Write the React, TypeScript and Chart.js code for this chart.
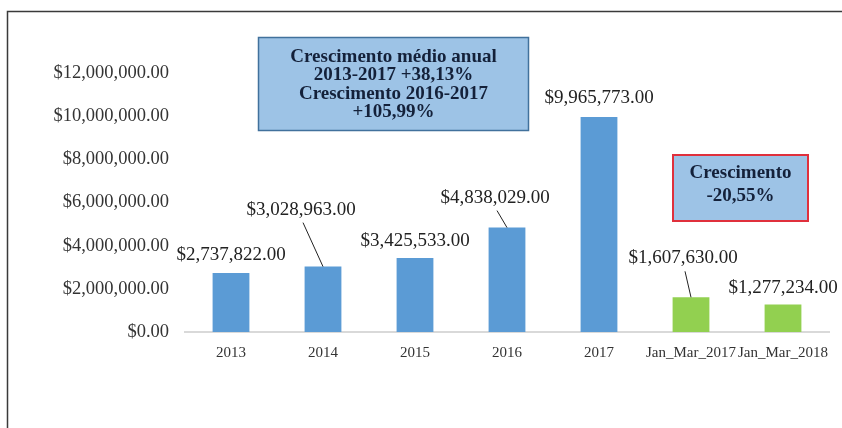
import React, { useEffect, useRef } from "react";
import { Chart, registerables } from "chart.js";

Chart.register(...registerables);

const categories = ["2013", "2014", "2015", "2016", "2017", "Jan_Mar_2017", "Jan_Mar_2018"];
const revenue = [2737822, 3028963, 3425533, 4838029, 9965773, 1607630, 1277234];
const barColors = ["#5b9bd5", "#5b9bd5", "#5b9bd5", "#5b9bd5", "#5b9bd5", "#92d050", "#92d050"];
const yTicksMax = 12000000;
const yTickStep = 2000000;
const box1Lines = ["Crescimento médio anual", "2013-2017 +38,13%", "Crescimento 2016-2017", "+105,99%"];
const box2Lines = ["Crescimento", "-20,55%"];

// label offsets (px) from bar top, and whether a leader line is drawn
const labelDx = [0, -22, 0, -12, 0, -8, 0];
const labelDy = [-18, -57, -17, -30, -19, -39, -16];
const leader = [false, true, false, true, false, true, false];

const fmt = (v: number) =>
  "$" + v.toLocaleString("en-US", { minimumFractionDigits: 2, maximumFractionDigits: 2 });

const SERIF = "'Liberation Serif', 'Times New Roman', serif";

const overlayPlugin = {
  id: "overlay",
  afterDraw(chart: any) {
    const ctx = chart.ctx;
    ctx.save();
    // frame
    ctx.strokeStyle = "#3a3a3a";
    ctx.lineWidth = 1.5;
    ctx.beginPath();
    ctx.moveTo(7.5, 428);
    ctx.lineTo(7.5, 11.5);
    ctx.lineTo(842, 11.5);
    ctx.stroke();

    // data labels
    const meta = chart.getDatasetMeta(0);
    ctx.font = `19px ${SERIF}`;
    ctx.fillStyle = "#222";
    ctx.textAlign = "center";
    ctx.textBaseline = "middle";
    meta.data.forEach((bar: any, i: number) => {
      const lx = bar.x + labelDx[i];
      const ly = bar.y + labelDy[i];
      ctx.fillText(fmt(revenue[i]), lx, ly);
      if (leader[i]) {
        ctx.strokeStyle = "#222";
        ctx.lineWidth = 1;
        ctx.beginPath();
        ctx.moveTo(lx + 2, ly + 13);
        ctx.lineTo(bar.x, bar.y);
        ctx.stroke();
      }
    });

    // annotation boxes
    const drawBox = (x: number, y: number, w: number, h: number, border: string, bw: number, lines: string[], firstY: number, gap: number) => {
      ctx.fillStyle = "#9dc3e6";
      ctx.fillRect(x, y, w, h);
      ctx.strokeStyle = border;
      ctx.lineWidth = bw;
      ctx.strokeRect(x, y, w, h);
      ctx.fillStyle = "#14213a";
      ctx.font = `bold 19px ${SERIF}`;
      ctx.textAlign = "center";
      ctx.textBaseline = "middle";
      lines.forEach((t, k) => ctx.fillText(t, x + w / 2, firstY + k * gap));
    };
    drawBox(258.5, 37.5, 270, 93, "#41719c", 1.5, box1Lines, 57, 18.4);
    drawBox(673, 155, 135, 66, "#e0303c", 2, box2Lines, 173, 23);
    ctx.restore();
  },
};

export default function App() {
  const ref = useRef<HTMLCanvasElement>(null);
  useEffect(() => {
    if (!ref.current) return;
    const chart = new Chart(ref.current, {
      type: "bar",
      data: {
        labels: categories,
        datasets: [
          {
            data: revenue,
            backgroundColor: barColors,
            barPercentage: 0.4,
            categoryPercentage: 1.0,
          },
        ],
      },
      options: {
        responsive: false,
        animation: false,
        layout: { padding: { top: 73, right: 13, left: 0, bottom: 0 } },
        plugins: { legend: { display: false }, tooltip: { enabled: false } },
        scales: {
          y: {
            min: 0,
            max: yTicksMax,
            ticks: {
              stepSize: yTickStep,
              callback: (v: any) => fmt(Number(v)),
              font: { family: SERIF, size: 18.5 },
              color: "#333",
              padding: 16,
            },
            grid: { display: false, drawTicks: false },
            border: { display: false },
            afterFit: (s: any) => {
              s.width = 185;
            },
          },
          x: {
            ticks: {
              font: { family: SERIF, size: 15 },
              color: "#333",
              autoSkip: false,
              maxRotation: 0,
              padding: 12,
            },
            grid: { display: false, drawTicks: false },
            border: { display: true, color: "#d9d9d9", width: 2 },
            afterFit: (s: any) => {
              s.height = 96;
            },
          },
        },
      },
      plugins: [overlayPlugin],
    });
    return () => chart.destroy();
  }, []);
  return (
    <div style={{ position: "fixed", left: 0, top: 0, width: 842, height: 428, background: "#fff" }}>
      <canvas ref={ref} width={842} height={428} />
    </div>
  );
}
